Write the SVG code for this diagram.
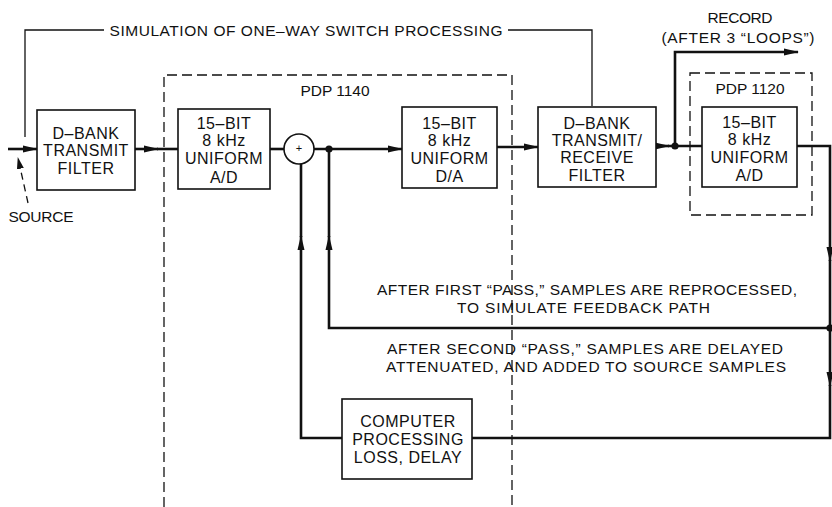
<svg xmlns="http://www.w3.org/2000/svg" width="832" height="507" viewBox="0 0 832 507">
<style>
text{font-family:"Liberation Sans",Arial,sans-serif;fill:#111;text-anchor:middle;dominant-baseline:central}
.bt{font-size:16px;letter-spacing:0.5px}
.lb{font-size:15.5px}
.box{fill:#fff;stroke:#111;stroke-width:1.6}
.dash{fill:none;stroke:#111;stroke-width:1.3;stroke-dasharray:10 5}
.sig{fill:none;stroke:#111;stroke-width:2.6}
.thin{fill:none;stroke:#111;stroke-width:1.3}
.dot{fill:#111}
</style>
<defs>
<marker id="ah" viewBox="0 0 15 8" refX="14" refY="4" markerWidth="15" markerHeight="8" markerUnits="userSpaceOnUse" orient="auto"><path d="M0,0.5 L15,4 L0,7.5 z" fill="#111"/></marker>
<marker id="ahs" viewBox="0 0 12 8" refX="11" refY="4" markerWidth="12" markerHeight="8" markerUnits="userSpaceOnUse" orient="auto"><path d="M0,0.5 L12,4 L0,7.5 z" fill="#111"/></marker>
</defs>

<g id="pdp1140-frame">
<path class="dash" d="M164,507 V75 H512 V507"/>
<text class="lb" x="335" y="90">PDP 1140</text>
</g>
<g id="pdp1120-frame">
<rect class="dash" x="690" y="73" width="122" height="142"/>
<text class="lb" x="750" y="88">PDP 1120</text>
</g>

<g id="connectors">
<path class="sig" d="M8,149 H37" marker-end="url(#ah)"/>
<path class="thin" d="M25,137 V30 H104"/>
<path class="thin" d="M508,30 H592 V106"/>
<path class="thin" d="M28,203 L18,158" stroke-dasharray="7 5" marker-end="url(#ahs)"/>
<path class="sig" d="M135,149 H158" marker-end="url(#ah)"/>
<path class="sig" d="M157,149 H178"/>
<path class="sig" d="M270,149 H284"/>
<path class="sig" d="M314,149 H402" marker-end="url(#ah)"/>
<path class="sig" d="M497,147 H538" marker-end="url(#ah)"/>
<path class="sig" d="M656,146 H669" marker-end="url(#ah)"/>
<path class="sig" d="M668,146 H702"/>
<path class="sig" d="M675,146 V52 H798" marker-end="url(#ah)"/>
<path class="sig" d="M797,146 H830 V261" marker-end="url(#ah)"/>
<path class="sig" d="M830,260 V386" marker-end="url(#ah)"/>
<path class="sig" d="M830,385 V438 H472"/>
<path class="sig" d="M830,328 H329 V236" marker-end="url(#ah)"/>
<path class="sig" d="M329,237 V149"/>
<path class="sig" d="M342,438 H301 V236" marker-end="url(#ah)"/>
<path class="sig" d="M301,237 V164"/>
<circle class="dot" cx="329" cy="149" r="3.6"/>
<circle class="dot" cx="675" cy="146" r="3.6"/>
<circle class="dot" cx="830" cy="328" r="3.6"/>
</g>

<g id="title-label">
<text class="lb" x="306" y="30" textLength="393" lengthAdjust="spacing">SIMULATION OF ONE–WAY SWITCH PROCESSING</text>
</g>
<g id="source-label">
<text class="lb" x="41" y="216" textLength="65" lengthAdjust="spacing">SOURCE</text>
</g>
<g id="record-label">
<text class="lb" x="740" y="17" textLength="65" lengthAdjust="spacing">RECORD</text>
<text class="lb" x="738" y="37" textLength="153" lengthAdjust="spacing">(AFTER 3 “LOOPS”)</text>
</g>

<g id="dbank-tx">
<rect class="box" x="37" y="110" width="98" height="80"/>
<text class="bt" x="86" y="133">D–BANK</text>
<text class="bt" x="86" y="150">TRANSMIT</text>
<text class="bt" x="86" y="168">FILTER</text>
</g>

<g id="ad-1140">
<rect class="box" x="178" y="109" width="92" height="80"/>
<text class="bt" x="224" y="123">15–BIT</text>
<text class="bt" x="224" y="140">8 kHz</text>
<text class="bt" x="224" y="158">UNIFORM</text>
<text class="bt" x="224" y="177">A/D</text>
</g>

<g id="sum">
<circle cx="299" cy="149" r="15" fill="#fff" stroke="#111" stroke-width="1.6"/>
<text x="299" y="148" style="font-size:11px">+</text>
</g>

<g id="da-1140">
<rect class="box" x="402" y="107" width="95" height="81"/>
<text class="bt" x="449.5" y="123">15–BIT</text>
<text class="bt" x="449.5" y="140">8 kHz</text>
<text class="bt" x="449.5" y="158">UNIFORM</text>
<text class="bt" x="449.5" y="176">D/A</text>
</g>

<g id="dbank-txrx">
<rect class="box" x="538" y="107" width="118" height="80"/>
<text class="bt" x="597" y="123">D–BANK</text>
<text class="bt" x="597" y="140">TRANSMIT/</text>
<text class="bt" x="597" y="157">RECEIVE</text>
<text class="bt" x="597" y="175">FILTER</text>
</g>

<g id="ad-1120">
<rect class="box" x="702" y="107" width="95" height="80"/>
<text class="bt" x="749.5" y="122">15–BIT</text>
<text class="bt" x="749.5" y="139">8 kHz</text>
<text class="bt" x="749.5" y="157">UNIFORM</text>
<text class="bt" x="749.5" y="175">A/D</text>
</g>

<g id="computer">
<rect class="box" x="342" y="399" width="130" height="80"/>
<text class="bt" x="408" y="421">COMPUTER</text>
<text class="bt" x="408" y="439">PROCESSING</text>
<text class="bt" x="408" y="457">LOSS, DELAY</text>
</g>

<g id="notes">
<text class="lb" x="587" y="289" textLength="420" lengthAdjust="spacing">AFTER FIRST “PASS,” SAMPLES ARE REPROCESSED,</text>
<text class="lb" x="583.5" y="307" textLength="253" lengthAdjust="spacing">TO SIMULATE FEEDBACK PATH</text>
<text class="lb" x="585" y="348" textLength="396" lengthAdjust="spacing">AFTER SECOND “PASS,” SAMPLES ARE DELAYED</text>
<text class="lb" x="586" y="366" textLength="400" lengthAdjust="spacing">ATTENUATED, AND ADDED TO SOURCE SAMPLES</text>
</g>
</svg>
